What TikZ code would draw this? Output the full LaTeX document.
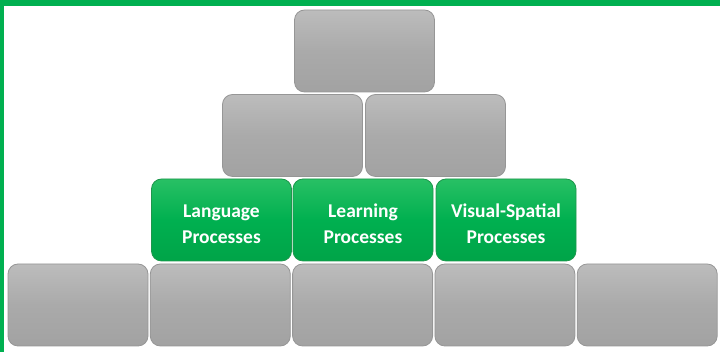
\documentclass[tikz,border=0pt]{standalone}
\usepackage{fontspec}
\setmainfont{Carlito}
\usepackage{tikz}

\definecolor{bandgreen}{RGB}{0,176,80}
\definecolor{brickhi}{RGB}{188,188,188}
\definecolor{brickmid}{RGB}{170,170,170}
\definecolor{bricklo}{RGB}{162,162,162}
\definecolor{brickedge}{RGB}{150,150,150}
\definecolor{greenhi}{RGB}{40,192,100}
\definecolor{greenlo}{RGB}{0,164,72}
\definecolor{greenedge}{RGB}{30,150,76}

\tikzset{
  brick/.style={rectangle,rounded corners=10pt,minimum width=140pt,minimum height=82pt,
    draw=brickedge,line width=0.8pt,top color=brickhi,bottom color=bricklo,middle color=brickmid},
  greenbrick/.style={brick,draw=greenedge,top color=greenhi,bottom color=greenlo,middle color=bandgreen,
    text=white,font=\fontsize{19.5}{26}\selectfont\bfseries,align=center,text height=47pt}
}

\begin{document}
\begin{tikzpicture}[x=1pt,y=1pt]
			\useasboundingbox (0,0) rectangle (720,352);
			\fill[bandgreen] (0,346) rectangle (720,352);
			\fill[bandgreen] (0,0) rectangle (4,352);
			% bottom row
			\node[brick] (b1) at (78,47) {};
			\node[brick] (b2) at (220.3,47) {};
			\node[brick] (b3) at (362.6,47) {};
			\node[brick] (b4) at (504.9,47) {};
			\node[brick] (b5) at (647.2,47) {};
			% processes
			\node[greenbrick] (lang) at (221.5,132) {Language\\Processes};
			\node[greenbrick] (learn) at (363,132) {Learning\\Processes};
			\node[greenbrick] (vis) at (506,132) {Visual-Spatial\\Processes};
			% upper rows
			\node[brick] (m1) at (292.5,216.5) {};
			\node[brick] (m2) at (435.5,216.5) {};
			\node[brick] (top) at (364.5,301) {};
		\end{tikzpicture}
\end{document}
